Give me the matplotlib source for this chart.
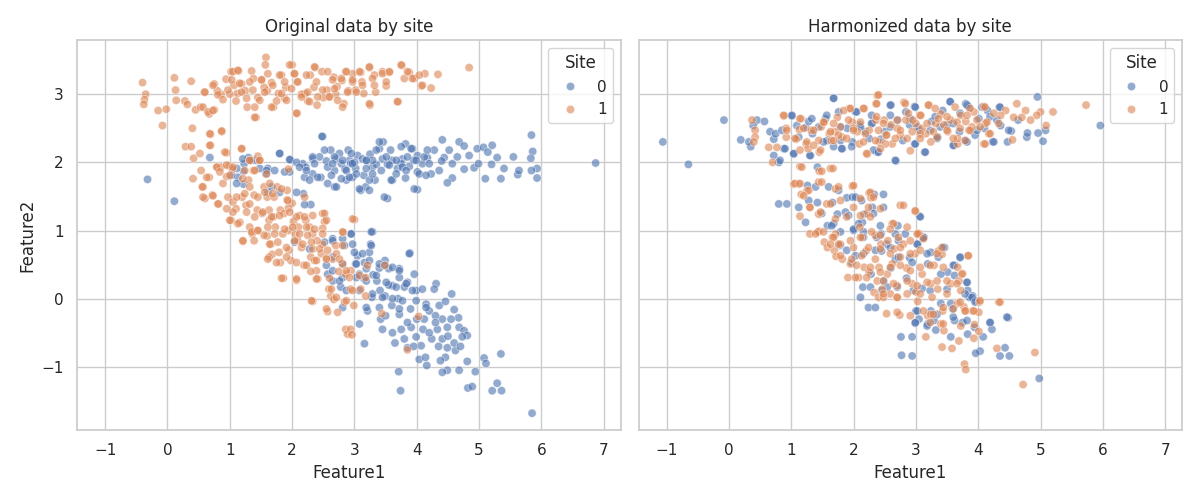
import numpy as np
import pandas as pd
import matplotlib
matplotlib.use("Agg")
import matplotlib.pyplot as plt
import seaborn as sns

# points, (Feature1, Feature2)
orig_site0 = np.array([
    (-0.32, 1.75), (0.11, 1.43), (0.68, 2.07), (6.87, 1.99),
    (1.13, 1.78), (1.22, 1.87), (1.22, 1.68), (1.23, 1.98), (1.30, 2.07), (1.42, 2.03),
    (1.58, 1.83), (1.61, 1.91), (1.61, 1.56), (1.72, 1.88), (1.80, 2.13), (1.96, 1.86),
    (1.97, 2.04), (2.17, 1.98), (2.18, 1.54), (2.20, 1.78), (2.22, 1.93), (2.30, 1.38),
    (2.33, 1.83), (2.33, 2.05), (2.44, 2.08), (2.46, 1.78), (2.49, 2.38), (2.57, 1.69),
    (2.62, 2.18), (2.68, 1.64), (2.68, 1.88), (2.76, 2.13), (2.79, 1.98), (2.87, 1.74),
    (2.90, 2.18), (2.92, 2.03), (2.94, 1.98), (2.97, 1.78), (3.02, 1.91), (3.05, 2.10),
    (3.10, 1.59), (3.15, 1.81), (3.18, 1.64), (3.24, 1.59), (3.29, 1.93), (3.33, 1.74),
    (3.40, 2.20), (3.45, 2.05), (3.46, 2.30), (3.53, 1.97), (3.53, 1.47), (3.58, 2.18),
    (3.61, 1.74), (3.69, 1.91), (3.77, 2.05), (3.82, 2.27), (3.82, 1.77), (3.88, 1.94),
    (3.93, 2.20), (4.01, 2.10), (4.01, 1.86), (4.01, 1.60), (4.09, 1.98), (4.17, 2.07),
    (4.23, 1.83), (4.28, 2.18), (4.36, 1.88), (4.41, 2.33), (4.44, 2.07), (4.52, 2.18),
    (4.57, 1.98), (4.57, 1.77), (4.49, 1.70), (4.65, 2.08), (4.68, 2.30), (4.76, 2.24),
    (4.76, 1.90), (4.84, 2.10), (4.92, 1.92), (4.97, 2.20), (4.99, 1.98), (5.07, 2.22),
    (5.14, 2.15), (5.10, 1.76), (5.20, 1.97), (5.21, 2.25), (5.29, 2.07), (5.35, 1.76),
    (5.40, 1.91), (5.55, 2.08), (5.62, 1.82), (5.64, 1.88), (5.84, 2.40), (5.86, 2.16),
    (5.83, 2.06), (5.93, 1.91), (5.93, 1.77), (5.84, 1.88),
    (2.55, 2.02), (2.70, 2.05), (3.00, 2.00), (3.20, 2.02), (3.35, 1.97), (3.60, 2.03),
    (3.75, 1.98), (3.95, 2.03), (4.20, 1.98), (4.40, 2.02), (2.85, 1.90), (3.25, 2.12),
    (2.48, 2.38), (1.80, 2.13), (1.21, 2.05), (1.35, 2.03), (1.96, 2.04), (2.07, 2.00),
    (2.12, 1.93), (2.23, 1.88), (2.33, 2.08), (2.36, 1.98), (2.41, 1.78), (2.52, 2.18),
    (2.57, 1.93), (2.63, 1.81), (2.68, 2.08), (2.71, 1.64), (2.79, 1.76), (2.81, 2.03),
    (2.87, 1.88), (2.95, 2.13), (2.97, 1.98), (3.03, 1.83), (3.08, 1.61), (3.13, 2.05),
    (3.19, 1.91), (3.24, 1.74), (3.29, 2.03), (3.35, 2.18), (3.40, 2.30), (3.43, 1.88),
    (3.48, 1.49), (3.51, 2.08), (3.56, 1.96), (3.59, 1.74), (3.67, 2.03), (3.75, 2.23),
    (3.77, 1.93), (3.85, 2.08), (3.91, 2.20), (3.96, 1.61), (3.99, 2.03), (4.04, 1.83),
    (4.12, 2.08), (4.15, 1.81), (4.17, 2.18), (1.11, 1.91), (1.03, 1.81), (1.11, 1.69),
    (1.48, 1.91), (1.59, 1.88), (1.67, 1.64), (1.80, 1.56), (2.07, 1.56), (2.20, 1.38),
    (1.88, 1.86), (2.28, 1.74), (2.65, 1.98), (2.92, 1.78), (3.19, 2.03), (3.29, 1.83),
    (3.67, 1.83), (3.83, 1.88),
    # lower diagonal cluster
    (2.65, 0.88), (2.55, 0.49), (2.57, 0.36), (2.65, 0.26), (2.78, 0.17), (2.81, 0.31),
    (2.84, 0.78), (3.29, 0.98), (2.94, 0.95), (2.97, 0.80), (3.26, 0.80), (3.05, 0.63),
    (3.24, 0.68), (3.16, 0.53), (3.02, 0.51), (3.08, 0.36), (3.49, 0.56), (3.55, 0.44),
    (3.89, 0.67), (3.72, 0.44), (3.72, 0.31), (3.96, 0.36), (3.85, 0.24), (3.99, 0.12),
    (3.80, 0.17), (3.61, 0.19), (3.49, 0.04), (3.41, 0.12), (3.36, 0.26), (3.28, 0.02),
    (3.21, -0.18), (3.08, -0.37), (3.16, -0.66), (3.45, -0.45), (3.42, -0.30), (3.61, -0.50),
    (3.72, -0.23), (3.80, -0.59), (3.85, -0.72), (3.91, -0.42), (3.99, -0.56), (4.07, -0.69),
    (4.04, -0.89), (4.16, -0.98), (4.14, -0.86), (3.71, -1.07), (3.74, -1.35), (4.15, -0.08),
    (4.31, 0.22), (4.28, 0.14), (4.20, -0.18), (4.12, -0.30), (4.36, -0.10), (4.46, -0.04),
    (4.56, 0.07), (4.41, -0.30), (4.49, -0.42), (4.33, -0.45), (4.24, -0.59), (4.41, -0.59),
    (4.60, -0.16), (4.67, -0.28), (4.68, -0.42), (4.76, -0.47), (4.81, -0.54), (4.73, -0.56),
    (4.49, -0.72), (4.62, -0.76), (4.46, -0.86), (4.38, -0.91), (4.49, -1.05), (4.41, -1.08),
    (4.68, -1.05), (4.81, -0.92), (4.94, -1.07), (5.08, -0.87), (5.11, -0.95), (5.35, -0.81),
    (4.82, -1.31), (4.89, -1.29), (5.21, -1.35), (5.29, -1.24), (5.36, -1.35), (5.85, -1.68),
    (3.30, 0.35), (3.55, 0.20), (3.70, 0.00), (3.90, -0.15), (4.00, -0.30), (3.60, -0.10),
    (3.40, 0.45), (3.15, 0.30), (4.10, -0.45), (4.30, -0.25), (3.85, -0.35), (3.50, -0.25),
    (2.04, 0.83), (2.28, 0.73), (2.52, 0.83), (2.65, 0.85), (2.81, 0.88), (2.95, 0.95),
    (3.27, 0.98), (3.27, 0.78), (3.00, 0.68), (3.13, 0.66), (3.24, 0.56), (2.65, 0.61),
    (2.81, 0.51), (3.03, 0.51), (3.19, 0.44), (3.40, 0.51), (3.48, 0.49), (3.61, 0.46),
    (3.72, 0.41), (3.88, 0.66), (2.65, 0.41), (2.76, 0.26), (3.03, 0.31), (3.19, 0.26),
    (3.35, 0.34), (3.51, 0.24), (3.67, 0.17), (3.83, 0.22), (3.93, 0.12), (4.09, 0.14),
    (2.87, 0.12), (3.08, 0.12), (3.29, 0.07), (3.45, 0.02), (3.61, 0.00), (3.77, -0.03),
    (3.99, -0.03), (2.81, -0.13), (3.19, -0.13), (3.40, -0.13), (3.72, -0.15), (4.15, -0.13),
    (4.30, -0.35), (4.50, -0.55), (4.60, -0.65), (4.20, -0.50), (3.95, -0.70), (4.35, -0.70),
    (4.55, -0.30), (4.70, -0.70), (3.75, -0.45), (3.65, -0.65),
])

orig_site1 = np.array([
    # upper band
    (-0.40, 3.17), (-0.35, 3.00), (-0.37, 2.92), (-0.38, 2.85), (-0.15, 2.76), (-0.02, 2.78),
    (-0.08, 2.54), (0.11, 3.24), (0.13, 3.06), (0.14, 2.91), (0.28, 2.90), (0.32, 2.85),
    (0.38, 3.19), (0.40, 2.50), (0.45, 2.77), (0.53, 2.81), (0.59, 3.03), (0.69, 2.41),
    (0.87, 2.45), (0.75, 3.15), (0.75, 2.77), (0.67, 2.71), (0.69, 2.25), (0.29, 2.23),
    (0.38, 2.23), (0.42, 2.06), (0.95, 2.14), (0.86, 3.00), (0.94, 3.22), (1.02, 3.33),
    (1.14, 3.34), (1.07, 3.13), (1.12, 3.01), (1.28, 2.81), (1.42, 2.66), (1.19, 3.15),
    (1.35, 3.34), (1.38, 3.23), (1.51, 3.21), (1.58, 3.54), (1.57, 3.43), (1.67, 3.17),
    (1.70, 2.81), (1.78, 3.01), (1.83, 3.28), (1.88, 2.94), (2.00, 3.43), (2.03, 3.30),
    (2.08, 2.72), (2.08, 3.18), (2.21, 3.01), (2.29, 3.28), (2.37, 3.39), (2.40, 2.84),
    (2.48, 3.33), (2.56, 3.06), (2.59, 2.96), (2.67, 3.25), (2.72, 3.11), (2.83, 2.86),
    (2.86, 3.33), (2.97, 3.30), (2.97, 3.18), (3.02, 3.06), (3.10, 3.32), (3.12, 3.18),
    (3.15, 3.01), (3.24, 3.39), (3.25, 2.84), (3.32, 3.28), (3.34, 3.03), (3.45, 3.33),
    (3.51, 3.12), (3.56, 3.32), (3.70, 2.89), (3.76, 3.42), (3.80, 3.23), (3.88, 3.32),
    (3.96, 3.23), (4.07, 3.12), (4.13, 3.30), (4.23, 3.09), (4.34, 3.29), (4.84, 3.39),
    (1.00, 3.00), (1.25, 3.05), (1.45, 2.95), (1.60, 3.05), (1.90, 3.10), (2.15, 3.00),
    (2.35, 3.10), (2.50, 2.95), (2.70, 3.00), (2.90, 3.05), (1.10, 2.90), (1.55, 3.10),
    (2.25, 2.90), (2.80, 3.20), (0.80, 3.05), (1.75, 2.90),
    (0.60, 3.03), (0.73, 3.13), (0.81, 2.99), (0.89, 2.92), (0.97, 3.06), (1.03, 3.21),
    (1.05, 3.33), (1.13, 3.35), (1.16, 3.16), (1.19, 3.03), (1.27, 2.94), (1.32, 3.18),
    (1.37, 3.06), (1.40, 2.81), (1.48, 2.91), (1.51, 3.21), (1.56, 3.03), (1.61, 3.30),
    (1.67, 2.81), (1.69, 3.13), (1.80, 3.28), (1.83, 3.01), (1.88, 3.18), (1.91, 2.91),
    (1.96, 3.43), (1.99, 3.08), (2.04, 3.30), (2.07, 2.72), (2.09, 3.18), (2.15, 2.96),
    (2.23, 3.28), (2.25, 3.03), (2.28, 2.89), (2.36, 3.40), (2.39, 3.18), (2.41, 2.96),
    (2.49, 3.06), (2.57, 3.33), (2.60, 2.96), (2.65, 3.21), (2.68, 3.08), (2.73, 2.91),
    (2.79, 3.23), (2.81, 2.81), (2.87, 3.33), (2.89, 3.03), (2.97, 3.21), (3.03, 3.03),
    (3.08, 3.33), (3.13, 3.13), (3.24, 3.40), (3.24, 2.86), (3.29, 3.23), (3.32, 3.13),
    (3.45, 3.30), (3.51, 3.18), (3.56, 3.33), (3.69, 2.89), (3.75, 3.43), (3.85, 3.33),
    (3.93, 3.23), (4.04, 3.28), (4.09, 3.13), (0.57, 2.81), (0.65, 2.74), (0.73, 2.76),
    (1.40, 2.66),
    # lower diagonal cluster
    (3.00, 1.16), (0.95, 1.79), (0.80, 1.93), (0.86, 1.93), (0.99, 1.95), (1.04, 1.90),
    (1.19, 2.20), (1.32, 2.03), (1.45, 2.09), (1.48, 2.03), (1.24, 1.88), (1.30, 1.74),
    (1.38, 1.88), (0.67, 1.78), (0.54, 1.88), (0.41, 1.76), (0.57, 1.64), (0.60, 1.47),
    (0.72, 1.52), (0.82, 1.39), (0.89, 1.69), (0.97, 1.49), (1.05, 1.42), (1.10, 1.32),
    (1.20, 1.49), (1.26, 1.37), (1.32, 1.64), (1.39, 1.52), (1.44, 1.30), (1.55, 1.64),
    (1.60, 1.49), (1.63, 1.30), (1.71, 1.49), (1.76, 1.64), (1.81, 1.30), (1.92, 1.59),
    (1.92, 1.45), (2.00, 1.40), (1.94, 1.90), (1.94, 1.33), (2.20, 1.49), (2.12, 1.22),
    (2.22, 1.15), (2.28, 1.05), (2.49, 1.25), (2.52, 1.13), (2.49, 1.03), (1.02, 1.15),
    (1.05, 1.27), (1.16, 1.12), (1.32, 1.05), (1.45, 1.00), (1.52, 1.25), (1.63, 1.15),
    (1.73, 1.05), (1.87, 1.25), (1.94, 1.00), (2.02, 1.13), (2.33, 0.95), (2.82, 0.97),
    (1.36, 0.95), (1.60, 0.92), (1.21, 0.84), (1.39, 0.85), (1.55, 0.93), (1.66, 0.80),
    (1.68, 0.65), (1.63, 0.61), (1.81, 0.53), (1.79, 0.68), (1.95, 0.71), (1.98, 0.56),
    (1.86, 0.30), (2.07, 0.27), (2.09, 0.85), (2.19, 0.49), (2.25, 0.93), (2.30, 0.61),
    (2.33, 0.73), (2.36, 0.56), (2.39, 0.41), (2.41, 0.29), (2.33, -0.04), (2.47, 0.66),
    (2.49, 0.80), (2.57, -0.19), (2.73, -0.20), (2.59, 0.14), (2.62, 0.04), (2.67, -0.01),
    (2.65, 0.58), (2.70, 0.78), (2.81, 0.51), (2.84, -0.05), (2.86, 0.36), (2.86, -0.45),
    (2.89, -0.52), (2.81, 0.78), (2.94, 0.41), (2.94, 0.14), (2.99, -0.10), (3.10, 0.14),
    (3.21, 0.49), (3.18, 0.04), (3.08, 0.34), (3.18, 0.31), (3.49, 0.49), (3.44, -0.22),
    (4.03, -0.26), (3.85, -0.75), (2.94, -0.45), (2.96, -0.53),
    (2.05, 0.95), (2.15, 0.75), (2.40, 0.85), (2.55, 0.60), (2.75, 0.40), (2.60, 0.30),
    (1.85, 0.95), (1.70, 1.20), (2.10, 1.05), (2.30, 0.40),
    (0.68, 2.42), (0.87, 2.46), (0.68, 2.25), (1.19, 2.20), (0.92, 2.15), (0.52, 2.13),
    (0.79, 1.93), (0.95, 1.96), (1.05, 1.93), (1.32, 2.03), (1.48, 2.03), (0.63, 1.78),
    (0.84, 1.86), (1.00, 1.81), (1.21, 1.76), (1.40, 1.88), (1.59, 1.83), (1.64, 1.69),
    (0.56, 1.64), (0.73, 1.51), (0.57, 1.49), (0.81, 1.39), (0.95, 1.32), (1.11, 1.49),
    (1.24, 1.54), (1.32, 1.39), (1.45, 1.49), (1.56, 1.56), (1.69, 1.54), (1.83, 1.61),
    (1.93, 1.44), (1.00, 1.15), (1.13, 1.10), (1.27, 1.27), (1.40, 1.20), (1.53, 1.27),
    (1.67, 1.20), (1.80, 1.22), (1.96, 1.27), (2.07, 1.20), (2.20, 1.20), (2.33, 1.22),
    (2.52, 1.25), (2.55, 1.15), (2.97, 1.17), (1.21, 0.85), (1.35, 0.98), (1.45, 1.00),
    (1.61, 1.05), (1.72, 0.95), (1.88, 1.02), (2.01, 1.05), (2.12, 0.95), (2.23, 1.05),
    (2.36, 1.02), (2.49, 0.95), (1.64, 0.80), (1.77, 0.83), (1.91, 0.75), (2.04, 0.85),
    (2.17, 0.80), (2.31, 0.83), (2.44, 0.73), (2.57, 0.71), (2.71, 0.66), (2.81, 0.98),
    (1.61, 0.58), (1.75, 0.53), (1.91, 0.61), (2.07, 0.53), (2.23, 0.49), (2.39, 0.56),
    (2.55, 0.58), (2.76, 0.58), (2.87, 0.41), (2.92, 0.31), (1.83, 0.30), (2.07, 0.29),
    (2.39, 0.29), (2.63, 0.14), (2.71, 0.02), (2.31, -0.03), (2.55, -0.15), (2.87, -0.03),
    (2.97, 0.12),
])

harm_site0 = np.array([
    # upper band
    (-1.06, 2.30), (-0.65, 1.97), (-0.08, 2.62), (0.19, 2.33), (0.35, 2.23), (0.32, 2.30),
    (0.45, 2.62), (0.57, 2.60), (0.39, 2.54), (0.66, 2.45), (0.72, 2.34), (0.75, 2.42),
    (0.80, 2.00), (0.72, 2.10), (0.88, 2.20), (1.01, 2.68), (1.04, 2.12), (1.12, 2.37),
    (1.23, 2.51), (1.28, 2.60), (1.31, 2.10), (1.34, 2.42), (1.42, 1.93), (1.55, 2.64),
    (1.58, 2.32), (1.68, 2.94), (1.68, 2.23), (1.76, 2.74), (1.82, 2.20), (1.98, 2.30),
    (2.03, 2.74), (2.19, 2.45), (2.30, 2.57), (2.38, 2.15), (2.44, 2.34), (2.60, 2.84),
    (2.68, 2.02), (2.71, 2.62), (2.79, 2.32), (2.84, 2.74), (4.95, 2.96), (5.96, 2.54),
    (5.04, 2.31), (5.08, 2.47), (4.96, 2.43), (4.78, 2.37), (4.79, 2.43), (4.53, 2.46),
    (4.47, 2.30), (4.23, 2.30), (4.34, 2.81), (4.36, 2.54), (4.64, 2.62), (4.15, 2.76),
    (4.01, 2.64), (3.80, 2.86), (3.85, 2.81), (3.80, 2.32), (3.61, 2.25), (3.55, 2.89),
    (3.43, 2.76), (3.35, 2.37), (3.14, 2.15), (2.98, 2.27), (2.98, 2.82), (3.06, 2.47),
    (2.10, 2.55), (2.50, 2.45), (2.90, 2.55), (3.25, 2.60), (3.70, 2.45), (4.10, 2.50),
    (3.95, 2.40), (3.50, 2.55), (2.25, 2.35), (1.90, 2.50),
    (1.68, 2.94), (2.59, 2.84), (2.99, 2.81), (3.55, 2.89), (3.82, 2.84), (4.06, 2.81),
    (4.35, 2.81), (1.01, 2.69), (1.33, 2.64), (1.57, 2.69), (2.05, 2.74), (2.29, 2.69),
    (2.59, 2.69), (2.91, 2.64), (3.31, 2.67), (3.71, 2.72), (4.19, 2.67), (4.49, 2.47),
    (0.85, 2.47), (1.09, 2.54), (1.44, 2.52), (1.79, 2.52), (2.11, 2.52), (2.29, 2.57),
    (2.59, 2.52), (3.02, 2.52), (3.23, 2.47), (3.39, 2.52), (3.60, 2.57), (3.98, 2.47),
    (4.30, 2.62), (0.90, 2.20), (1.04, 2.13), (1.30, 2.10), (1.52, 2.30), (1.81, 2.20),
    (1.97, 2.23), (2.32, 2.18), (2.40, 2.15), (2.67, 2.03), (2.99, 2.27), (3.15, 2.15),
    (3.34, 2.35), (3.60, 2.25), (3.82, 2.30), (4.25, 2.30), (1.79, 2.32), (0.82, 2.03),
    # lower diagonal cluster
    (0.80, 1.39), (1.26, 1.66), (1.12, 1.34), (1.23, 1.12), (1.42, 1.41), (1.60, 1.64),
    (1.66, 1.41), (1.74, 1.24), (1.89, 1.48), (1.98, 1.49), (2.33, 1.53), (2.30, 1.34),
    (2.17, 1.24), (1.58, 1.07), (1.68, 1.10), (1.87, 1.27), (2.14, 1.12), (2.00, 1.00),
    (2.44, 0.95), (2.71, 1.07), (3.06, 1.21), (3.12, 0.89), (1.78, 0.78), (1.89, 0.71),
    (2.03, 0.63), (1.97, 0.53), (2.15, 0.17), (2.11, 0.02), (2.24, -0.13), (2.28, 0.36),
    (2.48, 0.26), (2.54, 0.17), (2.67, 0.58), (2.76, -0.56), (2.77, -0.83), (2.72, 0.85),
    (3.13, 0.90), (3.03, 0.80), (3.46, 0.75), (3.24, 0.68), (3.71, 0.60), (3.62, 0.49),
    (3.51, 0.39), (3.19, 0.51), (3.40, 0.36), (3.62, 0.34), (3.82, 0.24), (3.83, 0.12),
    (3.91, 0.04), (3.86, 0.02), (3.96, -0.03), (3.40, -0.07), (3.56, -0.07), (3.59, -0.15),
    (3.24, -0.18), (3.00, -0.18), (3.05, -0.30), (3.29, -0.32), (2.99, -0.36), (3.19, -0.37),
    (3.62, -0.32), (3.75, -0.35), (3.94, -0.42), (3.32, -0.46), (3.56, -0.56), (3.83, -0.52),
    (4.08, -0.56), (4.19, -0.35), (4.22, -0.45), (4.48, -0.28), (2.94, -0.56), (2.94, -0.84),
    (4.03, -0.77), (3.96, -0.80), (4.35, -0.84), (4.50, -0.84), (4.43, -0.72), (4.98, -1.17),
    (2.60, 0.45), (2.85, 0.30), (3.10, 0.15), (2.45, 0.70), (2.90, 0.60),
    (0.93, 1.39), (1.39, 1.64), (1.76, 1.59), (2.03, 1.49), (2.13, 1.44), (2.48, 1.53),
    (1.28, 1.44), (1.49, 1.25), (1.65, 1.07), (1.92, 1.22), (2.08, 1.10), (2.32, 1.25),
    (2.48, 1.34), (2.43, 1.07), (3.07, 1.20), (1.79, 0.98), (2.00, 1.02), (2.16, 0.98),
    (2.37, 0.90), (2.53, 0.80), (2.67, 0.95), (2.83, 0.95), (3.02, 0.80), (3.12, 0.90),
    (3.44, 0.75), (2.16, 0.90), (2.16, 0.66), (2.35, 0.71), (2.59, 0.75), (2.72, 0.61),
    (2.94, 0.53), (3.18, 0.66), (3.36, 0.61), (3.60, 0.49), (3.71, 0.61), (3.82, 0.24),
    (2.27, 0.17), (2.45, 0.12), (2.70, 0.17), (2.96, 0.12), (3.23, 0.12), (3.50, 0.14),
    (3.79, 0.07), (3.90, 0.02), (3.95, -0.05), (2.35, -0.13), (3.02, -0.18), (3.34, -0.23),
    (3.60, -0.27), (3.82, -0.32), (4.19, -0.35), (2.99, -0.35), (3.18, -0.40), (4.46, -0.27),
])

harm_site1 = np.array([
    # upper band
    (0.37, 2.62), (0.42, 2.47), (0.42, 2.37), (0.40, 2.30), (0.64, 2.22), (0.77, 2.22),
    (0.70, 2.00), (0.88, 2.68), (0.92, 2.50), (0.92, 2.37), (1.08, 2.34), (1.16, 2.64),
    (1.13, 2.48), (1.24, 2.27), (1.27, 2.20), (1.32, 2.47), (1.45, 2.15), (1.48, 2.52),
    (1.53, 2.59), (1.61, 2.42), (1.64, 2.32), (1.74, 2.66), (1.79, 2.52), (1.82, 2.37),
    (1.93, 2.79), (1.98, 2.59), (2.06, 2.45), (2.09, 2.27), (2.17, 2.79), (2.22, 2.12),
    (2.25, 2.47), (2.36, 2.62), (2.36, 2.86), (2.38, 2.98), (2.41, 2.30), (2.49, 2.62),
    (2.52, 2.40), (2.62, 2.27), (2.70, 2.50), (2.81, 2.88), (2.84, 2.62), (5.73, 2.84),
    (5.20, 2.74), (5.09, 2.54), (5.00, 2.74), (4.94, 2.69), (4.84, 2.62), (4.76, 2.76),
    (4.70, 2.66), (4.62, 2.86), (4.57, 2.66), (4.55, 2.33), (4.44, 2.76), (4.36, 2.69),
    (4.09, 2.82), (4.09, 2.27), (4.17, 2.42), (4.12, 2.57), (3.93, 2.74), (3.90, 2.52),
    (3.85, 2.47), (3.72, 2.69), (3.67, 2.27), (3.67, 2.35), (3.56, 2.62), (3.51, 2.45),
    (3.40, 2.71), (3.32, 2.57), (3.24, 2.30), (3.21, 2.84), (3.16, 2.42), (3.08, 2.69),
    (3.00, 2.57), (2.95, 2.62), (2.00, 2.50), (2.60, 2.55), (3.10, 2.50), (3.45, 2.55),
    (3.80, 2.60), (2.75, 2.40), (1.70, 2.45),
    (2.40, 2.99), (2.37, 2.86), (2.83, 2.86), (3.20, 2.84), (3.31, 2.79), (3.63, 2.81),
    (3.87, 2.79), (4.11, 2.81), (4.25, 2.72), (0.88, 2.69), (1.14, 2.64), (1.84, 2.76),
    (1.95, 2.79), (2.16, 2.79), (1.52, 2.59), (1.68, 2.57), (1.92, 2.62), (2.11, 2.59),
    (2.37, 2.67), (2.48, 2.57), (2.70, 2.62), (2.88, 2.72), (3.07, 2.69), (3.18, 2.57),
    (3.36, 2.64), (3.50, 2.67), (3.66, 2.59), (3.82, 2.69), (3.98, 2.62), (4.14, 2.59),
    (4.33, 2.57), (0.93, 2.47), (1.20, 2.50), (1.36, 2.47), (1.63, 2.45), (1.76, 2.40),
    (2.00, 2.47), (2.19, 2.42), (2.40, 2.47), (2.53, 2.40), (2.75, 2.47), (2.94, 2.45),
    (3.07, 2.42), (3.28, 2.45), (3.50, 2.47), (3.71, 2.50), (3.87, 2.47), (4.03, 2.52),
    (4.19, 2.42), (1.06, 2.35), (1.25, 2.30), (1.44, 2.32), (1.68, 2.32), (1.89, 2.35),
    (2.16, 2.30), (2.35, 2.32), (2.51, 2.27), (2.67, 2.35), (2.86, 2.35), (3.07, 2.35),
    (3.34, 2.37), (3.60, 2.35), (3.79, 2.32), (4.11, 2.27), (1.14, 2.18), (1.47, 2.18),
    (2.21, 2.13), (2.91, 2.17), (1.36, 2.25), (2.43, 2.20),
    # lower diagonal cluster
    (1.14, 1.94), (1.63, 1.91), (1.45, 1.87), (1.04, 1.68), (1.12, 1.68), (1.16, 1.53),
    (1.25, 1.58), (1.44, 1.71), (1.14, 1.21), (1.30, 1.34), (1.44, 1.24), (1.57, 1.39),
    (1.71, 1.61), (1.98, 1.65), (2.00, 1.34), (2.21, 1.25), (2.25, 1.55), (2.28, 1.48),
    (2.75, 1.37), (1.30, 0.95), (1.45, 0.99), (1.71, 0.95), (2.35, 0.93), (2.62, 1.10),
    (2.99, 1.28), (3.04, 0.96), (1.43, 0.98), (1.53, 0.83), (1.58, 0.75), (1.69, 0.71),
    (1.72, 0.62), (1.66, 0.90), (1.79, 0.80), (1.82, 0.58), (1.91, 0.31), (1.95, 0.51),
    (2.00, 0.75), (2.08, 0.31), (2.14, 0.90), (2.17, 0.46), (2.25, 0.39), (2.35, 0.58),
    (2.38, 0.26), (2.33, 0.09), (2.40, 0.02), (2.41, 0.46), (2.44, 0.80), (2.48, 0.02),
    (2.46, 0.14), (2.54, 0.36), (2.53, -0.22), (2.59, 0.07), (2.62, 0.51), (2.65, 0.73),
    (2.70, 0.19), (2.70, 0.02), (2.74, -0.24), (2.75, 0.61), (3.05, 0.95), (2.99, 0.66),
    (3.36, 0.70), (3.42, 0.65), (3.84, 0.63), (3.67, 0.46), (3.75, 0.37), (3.10, 0.36),
    (3.29, 0.49), (2.94, 0.22), (3.24, 0.22), (3.56, 0.22), (3.69, 0.26), (3.72, 0.12),
    (3.35, 0.14), (3.03, -0.04), (3.43, -0.18), (3.67, -0.07), (3.77, -0.12), (3.80, -0.18),
    (3.91, -0.18), (4.02, -0.05), (4.01, -0.20), (4.33, -0.05), (3.19, -0.25), (3.24, -0.23),
    (3.40, -0.37), (3.45, -0.47), (3.72, -0.40), (3.94, -0.38), (4.01, -0.48), (3.93, -0.58),
    (3.69, -0.62), (3.16, -0.56), (3.42, -0.71), (3.58, -0.73), (4.30, -0.73), (4.91, -0.79),
    (3.78, -0.96), (3.80, -1.04), (4.72, -1.26),
    (2.20, 0.70), (2.55, 0.85), (2.85, 0.45), (3.00, 0.10), (2.80, 0.80), (2.10, 1.05),
    (1.17, 1.93), (1.49, 1.87), (1.67, 1.91), (1.06, 1.69), (1.14, 1.69), (1.28, 1.59),
    (1.49, 1.71), (1.76, 1.64), (2.00, 1.66), (2.27, 1.56), (2.32, 1.49), (1.20, 1.51),
    (1.63, 1.39), (1.79, 1.44), (2.11, 1.47), (2.24, 1.34), (2.80, 1.37), (2.99, 1.29),
    (1.30, 1.34), (1.47, 1.27), (1.71, 1.17), (1.89, 1.20), (2.11, 1.22), (2.27, 1.20),
    (2.43, 1.32), (2.64, 1.10), (2.86, 1.05), (3.02, 0.95), (1.39, 0.95), (1.52, 0.98),
    (1.68, 0.90), (1.76, 0.80), (1.95, 0.85), (2.11, 0.90), (2.29, 0.98), (2.43, 0.93),
    (2.59, 1.02), (2.72, 0.90), (2.91, 0.85), (3.12, 0.88), (1.63, 0.80), (1.79, 0.63),
    (1.97, 0.58), (2.13, 0.63), (2.24, 0.75), (2.43, 0.73), (2.59, 0.66), (2.75, 0.75),
    (2.91, 0.66), (3.07, 0.71), (3.34, 0.66), (3.42, 0.75), (3.84, 0.63), (2.05, 0.49),
    (2.27, 0.46), (2.43, 0.39), (2.59, 0.46), (2.75, 0.49), (2.91, 0.41), (3.07, 0.46),
    (3.23, 0.49), (3.44, 0.46), (3.74, 0.36), (2.03, 0.31), (2.21, 0.31), (2.48, 0.26),
    (2.64, 0.22), (2.86, 0.26), (3.02, 0.19), (3.18, 0.24), (3.34, 0.26), (3.50, 0.26),
    (3.66, 0.22), (2.48, 0.07), (2.70, 0.02), (2.86, 0.07), (3.07, 0.07), (3.26, 0.02),
    (3.50, 0.07), (3.71, -0.05), (3.93, -0.18), (4.03, -0.03), (4.35, -0.05), (2.70, -0.20),
    (2.91, -0.25), (3.12, -0.18), (3.28, -0.23), (3.44, -0.13), (3.60, -0.15), (3.79, -0.18),
    (3.23, -0.35), (3.44, -0.37),
])

panels = [("Original data by site", orig_site0, orig_site1),
          ("Harmonized data by site", harm_site0, harm_site1)]


def to_frame(site0, site1):
    df0 = pd.DataFrame(site0, columns=["Feature1", "Feature2"])
    df0["Site"] = 0
    df1 = pd.DataFrame(site1, columns=["Feature1", "Feature2"])
    df1["Site"] = 1
    return pd.concat([df0, df1], ignore_index=True)


sns.set_theme(style="whitegrid")
fig, axes = plt.subplots(1, 2, figsize=(12, 5), sharex=True, sharey=True)

for ax, (title, s0, s1) in zip(axes, panels):
    sns.scatterplot(data=to_frame(s0, s1), x="Feature1", y="Feature2", hue="Site",
                    alpha=0.6, ax=ax)
    ax.set_title(title)
    ax.legend(title="Site", loc="upper right")

axes[0].set_xlim(-1.45, 7.27)
axes[0].set_ylim(-1.93, 3.79)
axes[0].set_xticks(range(-1, 8))
fig.tight_layout()
fig.savefig("out.png", dpi=100)
